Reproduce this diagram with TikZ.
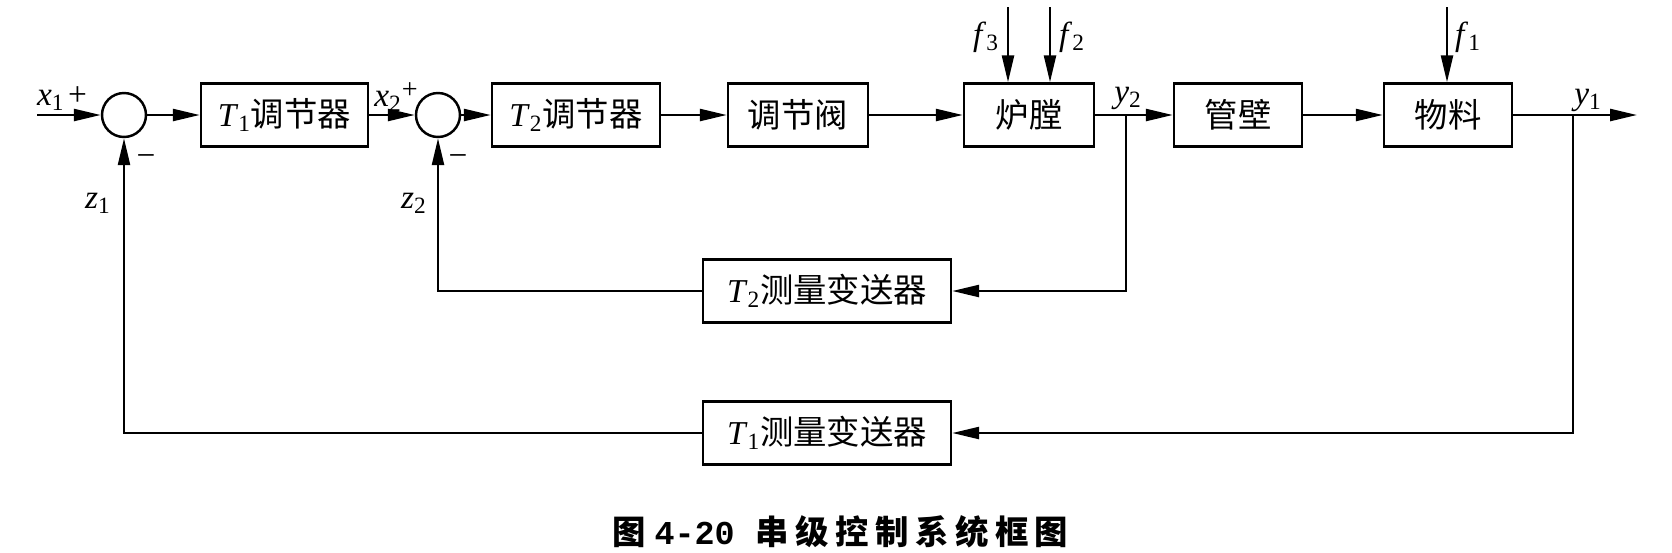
\documentclass[tikz,border=0pt]{standalone}
\usepackage{fontspec}
\setmainfont{Liberation Serif}
\newfontfamily\cjk{Noto Sans CJK SC}
\newfontfamily\capnum{Liberation Mono}
\usetikzlibrary{arrows.meta}
\newcommand{\svar}[2]{\textit{#1}\textsubscript{#2}}
\newcommand{\cg}{\hspace{0.13cm}}
\begin{document}
\begin{tikzpicture}[x=0.02cm, y=-0.02cm, line width=1.4pt,
  every node/.style={font=\fontsize{19}{22}\selectfont},
  blk/.style={draw, minimum height=1.26cm, inner sep=0pt},
  sumc/.style={draw, circle, minimum size=0.88cm, inner sep=0pt},
  conn/.style={-{Triangle[length=5.4mm, width=2.4mm]}}]
  \useasboundingbox (0,0) rectangle (1672,552);
  % Forward path
  \coordinate (in) at (37,115);
  \node[sumc] (s1) at (124,115) {};
  \node[blk, minimum width=3.34cm] (c1) at (284.5,115) {\svar{T}{1}\cjk 调节器};
  \node[sumc] (s2) at (438,115) {};
  \node[blk, minimum width=3.36cm] (c2) at (576,115) {\svar{T}{2}\cjk 调节器};
  \node[blk, minimum width=2.8cm] (valve) at (798,115) {\cjk 调节阀};
  \node[blk, minimum width=2.6cm] (furn) at (1029,115) {\cjk 炉膛};
  \node[blk, minimum width=2.56cm] (wall) at (1238,115) {\cjk 管壁};
  \node[blk, minimum width=2.56cm] (mat) at (1448,115) {\cjk 物料};
  \coordinate (b2) at (1126,115);
  \coordinate (b1) at (1573,115);
  \coordinate (out) at (1637,115);
  \draw[conn] (in) -- (s1);
  \draw[conn] (s1) -- (c1);
  \draw[conn] (c1) -- (s2);
  \draw[conn] (s2) -- (c2);
  \draw[conn] (c2) -- (valve);
  \draw[conn] (valve) -- (furn);
  \draw[conn] (furn) -- (wall);
  \draw[conn] (wall) -- (mat);
  \draw[conn] (mat) -- (out);
  % Disturbances
  \coordinate (f3) at (1008,7);
  \coordinate (f2) at (1050,7);
  \coordinate (f1) at (1447,7);
  \draw[conn] (f3) -- (f3 |- furn.north);
  \draw[conn] (f2) -- (f2 |- furn.north);
  \draw[conn] (f1) -- (f1 |- mat.north);
  % Feedback paths
  \node[blk, minimum width=4.96cm] (m2) at (827,291) {\svar{T}{2}\cjk 测量变送器};
  \node[blk, minimum width=4.96cm] (m1) at (827,433) {\svar{T}{1}\cjk 测量变送器};
  \draw[conn] (b2) |- (m2);
  \draw[conn] (m2) -| (s2);
  \draw[conn] (b1) |- (m1);
  \draw[conn] (m1) -| (s1);
  % Signal labels
  \node (lx1) at (62,99) {\svar{x}{1}\kern2pt+};
  \node (lx2) at (396,97) {\svar{x}{2}\raisebox{0.17cm}{\fontsize{16}{16}\selectfont+}};
  \node (lm1) at (146,161) {−};
  \node (lm2) at (458,161) {−};
  \node (lz1) at (98,203) {\svar{z}{1}};
  \node (lz2) at (414,203) {\svar{z}{2}};
  \node (lf3) at (986,37) {\svar{f}{3}};
  \node (lf2) at (1072,37) {\svar{f}{2}};
  \node (lf1) at (1468,37) {\svar{f}{1}};
  \node (ly2) at (1128,98) {\svar{y}{2}};
  \node (ly1) at (1588,100) {\svar{y}{1}};
  % Caption
  \node[anchor=west, inner sep=0pt, font=\fontsize{19}{22}\selectfont\bfseries] (cap) at (611,532)
    {\cjk 图\hspace{0.18cm}{\capnum 4-20}\hspace{0.42cm}串\cg 级\cg 控\cg 制\cg 系\cg 统\cg 框\cg 图};
\end{tikzpicture}
\end{document}
